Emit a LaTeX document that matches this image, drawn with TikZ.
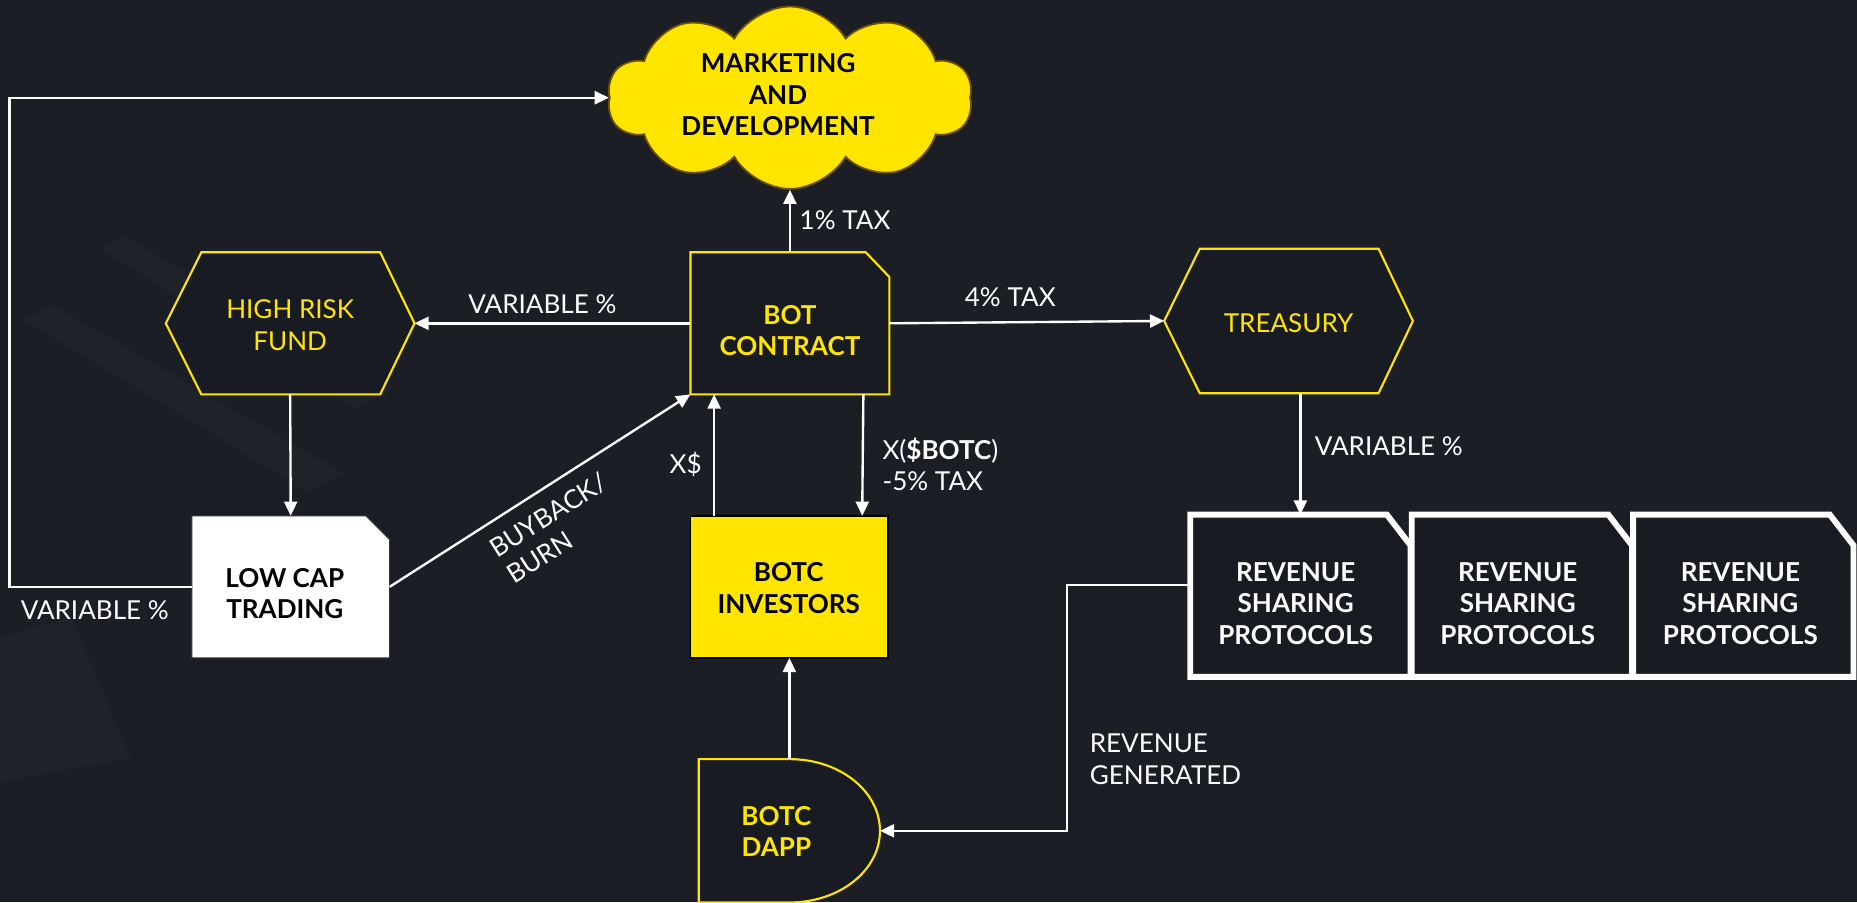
\documentclass[tikz,border=0pt]{standalone}
\usepackage{fontspec}
\setmainfont{Lato}
\usetikzlibrary{shapes.symbols,arrows.meta}
\definecolor{bgc}{HTML}{1B1E25}
\definecolor{boxc}{HTML}{181B21}
\definecolor{yel}{HTML}{FFE500}
\definecolor{cloudedge}{HTML}{6E5200}
\pgfdeclarelayer{bgl}
\pgfdeclarelayer{shp}
\pgfsetlayers{bgl,shp,main}
\tikzset{
  frame/.style={rectangle, draw=none, inner sep=0pt, outer sep=0pt},
  txt/.style={font=\fontsize{22}{26.5}\selectfont, align=center, inner sep=0pt},
  btxt/.style={font=\bfseries\fontsize{22}{26.5}\selectfont, align=center, inner sep=0pt},
  lbl/.style={text=white, font=\fontsize{22}{26.5}\selectfont, align=left, inner sep=0pt},
  arr/.style={draw=white, line width=2pt, -{Triangle[length=12pt,width=11pt]}},
  yshape/.style={draw=yel, line width=1.8pt, fill=boxc, line join=miter},
  rshape/.style={draw=white, line width=5pt, fill=boxc, line join=miter},
  tex/.style={fill=white, fill opacity=0.018, draw=none},
}
\begin{document}
\begin{tikzpicture}[x=1pt,y=-1pt]
\useasboundingbox (0,0) rectangle (1568,762);
\begin{pgfonlayer}{bgl}
\fill[bgc] (0,0) rectangle (1568,762);
% faint background texture
\fill[tex] (85,210) -- (105,200) -- (330,330) -- (300,345) -- cycle;
\fill[tex] (20,270) -- (45,258) -- (290,400) -- (260,415) -- cycle;
\fill[tex] (0,540) -- (60,520) -- (110,640) -- (0,660) -- cycle;
\end{pgfonlayer}

% frames
\node[frame, minimum width=168pt, minimum height=120pt] (bot) at (667,273) {};
\node[frame, minimum width=210pt, minimum height=120pt] (hr) at (245,273) {};
\node[frame, minimum width=210pt, minimum height=122pt] (tr) at (1088,271) {};
\node[frame, minimum width=167pt, minimum height=120pt] (low) at (245.5,495.5) {};
\node[frame, minimum width=167pt, minimum height=120pt] (inv) at (666.5,495.5) {};
\node[frame, minimum width=153pt, minimum height=121pt] (dapp) at (666.5,701.5) {};
\node[frame, minimum width=186pt, minimum height=137pt] (rev1) at (1098,503) {};
\node[frame, minimum width=186pt, minimum height=137pt] (rev2) at (1285,503) {};
\node[frame, minimum width=186pt, minimum height=137pt] (rev3) at (1472,503) {};
\node[cloud, cloud puffs=10, cloud puff arc=120, aspect=2, minimum width=308pt, minimum height=154pt,
      fill=yel, draw=cloudedge, line width=1.5pt, inner sep=0pt] (cloud) at (667,82.5) {};

\begin{pgfonlayer}{shp}
\draw[yshape] (bot.south west) -- (bot.north west) -- ([xshift=-20pt]bot.north east)
   -- ([yshift=-21pt]bot.north east) -- (bot.south east) -- cycle;
\draw[yshape] (hr.west) -- ([xshift=30pt]hr.north west) -- ([xshift=-29pt]hr.north east)
   -- (hr.east) -- ([xshift=-29pt]hr.south east) -- ([xshift=30pt]hr.south west) -- cycle;
\draw[yshape] (tr.west) -- ([xshift=30pt]tr.north west) -- ([xshift=-29pt]tr.north east)
   -- (tr.east) -- ([xshift=-29pt]tr.south east) -- ([xshift=30pt]tr.south west) -- cycle;
\draw[draw=black!80, line width=1pt, fill=white] (low.south west) -- (low.north west) -- ([xshift=-20pt]low.north east)
   -- ([yshift=-20pt]low.north east) -- (low.south east) -- cycle;
\draw[draw=black, line width=1.5pt, fill=yel] (inv.south west) rectangle (inv.north east);
\draw[yshape] (dapp.south west) -- (dapp.north west) -- ([xshift=77pt]dapp.north west)
   arc[start angle=90, end angle=-90, x radius=76pt, y radius=60.5pt] -- cycle;
\foreach \r in {rev1,rev2,rev3}{
  \draw[rshape] (\r.south west) -- (\r.north west) -- ([xshift=-20pt]\r.north east)
     -- ([yshift=-26pt]\r.north east) -- (\r.south east) -- cycle;
}
\end{pgfonlayer}

% texts
\node[btxt, text=black] (cloudt) at (657,80) {MARKETING\\AND\\DEVELOPMENT};
\node[btxt, text=yel] (bott) at (667,279) {BOT\\CONTRACT};
\node[txt, text=yel] (hrt) at (245,274.5) {HIGH RISK\\FUND};
\node[txt, text=yel] (trt) at (1088,272.5) {TREASURY};
\node[btxt, text=black] (lowt) at (240.5,501) {LOW CAP\\TRADING};
\node[btxt, text=black] (invt) at (666,496.5) {BOTC\\INVESTORS};
\node[btxt, text=yel] (dappt) at (655.5,702) {BOTC\\DAPP};
\node[btxt, text=white] (rev1t) at (1094,509.5) {REVENUE\\SHARING\\PROTOCOLS};
\node[btxt, text=white] (rev2t) at (1281.5,509.5) {REVENUE\\SHARING\\PROTOCOLS};
\node[btxt, text=white] (rev3t) at (1469.5,509.5) {REVENUE\\SHARING\\PROTOCOLS};

% connectors
\coordinate (lp) at (8,300);
\draw[arr] (low.west) -| (lp) |- (cloud.west);
\draw[arr] (bot.north) -- (cloud.south);
\draw[arr] (bot.west) -- (hr.east);
\draw[arr] (bot.east) -- (tr.west);
\draw[arr] (hr.south) -- (low.north);
\draw[arr] (low.east) -- (bot.south west);
\draw[arr] ([xshift=20pt]inv.north west) -- ([xshift=20pt]bot.south west);
\draw[arr] ([xshift=-22pt]bot.south east) -- ([xshift=-22pt]inv.north east);
\draw[arr] (dapp.north) -- (inv.south);
\draw[arr] (rev1.north |- tr.south) -- (rev1.north);
\draw[arr] ([yshift=9pt]rev1.west) -- ++(-104,0) |- (dapp.east);

% labels
\node[lbl, anchor=west] (l1) at (675,186) {1\% TAX};
\node[lbl] (l2) at (458,256.5) {VARIABLE \%};
\node[lbl] (l3) at (853,251) {4\% TAX};
\node[lbl, anchor=west] (l4) at (1110,377) {VARIABLE \%};
\node[lbl] (l5) at (80,515.5) {VARIABLE \%};
\node[lbl] (l6) at (579,392) {X\$};
\node[lbl, anchor=west] (l7) at (745,392) {X(\textbf{\$BOTC})\\-5\% TAX};
\node[lbl, anchor=west] (l9) at (920,641) {REVENUE\\GENERATED};
\node[lbl, rotate=32.4] (l8) at (470,446) {BUYBACK/\\BURN};
\end{tikzpicture}
\end{document}
